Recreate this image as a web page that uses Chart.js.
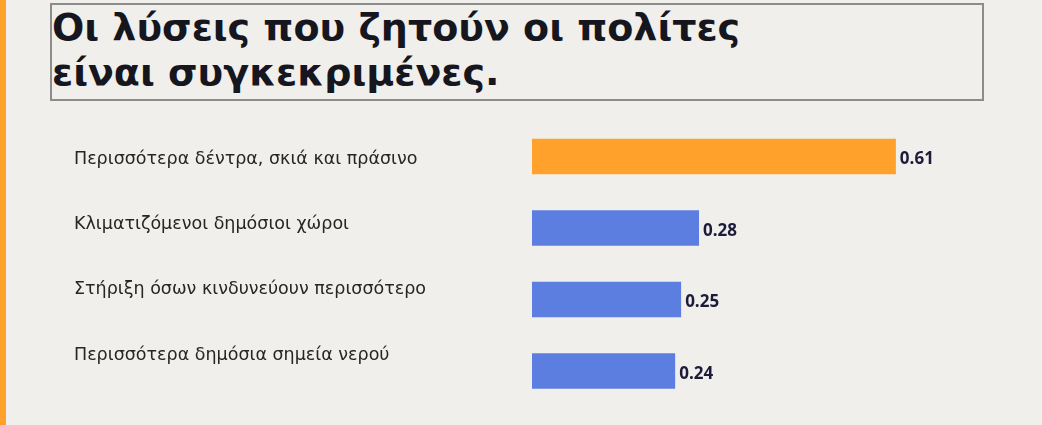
<!DOCTYPE html>
<html>
<head>
    <meta charset="utf-8">
    <title>Οι λύσεις που ζητούν οι πολίτες</title>
    <script src="https://cdn.jsdelivr.net/npm/chart.js"></script>
    <style>
        html, body { margin: 0; padding: 0; }
        body {
            width: 1042px; height: 425px; overflow: hidden;
            background: #f0efeb; position: relative;
        }
        #strip { position: absolute; left: 0; top: 0; width: 6px; height: 425px; background: #ffa12b; }
        #title {
            position: absolute; left: 50px; top: 3px; width: 930px; height: 94px;
            border: 2px solid #8c8c8c; box-sizing: content-box;
            font-family: "DejaVu Sans", sans-serif; font-weight: bold;
            font-size: 38px; line-height: 45px; color: #16161f;
            padding: 0; margin: 0;
        }
        #wrap { position: absolute; left: 0; top: 0; width: 1042px; height: 425px; }
    </style>
</head>
<body>
    <div id="strip"></div>
    <div id="title"><div>Οι λύσεις που ζητούν οι πολίτες</div><div>είναι συγκεκριμένες.</div></div>
    <div id="wrap"><canvas id="barChart" width="1042" height="425"></canvas></div>
    <script>
        const categories = [
            'Περισσότερα δέντρα, σκιά και πράσινο',
            'Κλιματιζόμενοι δημόσιοι χώροι',
            'Στήριξη όσων κινδυνεύουν περισσότερο',
            'Περισσότερα δημόσια σημεία νερού'
        ];
        const shares = [0.61, 0.28, 0.25, 0.24];

        const orange = '#ffa12b';
        const blue = '#5b7ee0';

        // value labels drawn at the end of each bar
        const valueLabels = {
            id: 'valueLabels',
            afterDatasetsDraw(chart) {
                const ctx = chart.ctx;
                const meta = chart.getDatasetMeta(0);
                ctx.save();
                ctx.font = 'bold 17px "Open Sans", sans-serif';
                ctx.fillStyle = '#1c1c3a';
                ctx.textAlign = 'left';
                ctx.textBaseline = 'middle';
                meta.data.forEach((bar, i) => {
                    ctx.fillText(shares[i].toFixed(2), bar.x + 4, bar.y + 3);
                });
                ctx.restore();
            }
        };

        const chart = new Chart(document.getElementById('barChart'), {
            type: 'bar',
            data: {
                labels: categories,
                datasets: [{
                    data: shares,
                    backgroundColor: ctx => ctx.dataIndex === 0 ? orange : blue,
                    barPercentage: 0.497,
                    categoryPercentage: 1,
                    yAxisID: 'y'
                }]
            },
            options: {
                indexAxis: 'y',
                responsive: false,
                animation: false,
                layout: { padding: { top: 120.75, bottom: 18.25, left: 74, right: 32.8 } },
                plugins: { legend: { display: false }, tooltip: { enabled: false } },
                scales: {
                    x: { min: 0, max: 0.8, display: false },
                    y: { display: false },
                    // category texts sit on their own, slightly tighter spacing
                    yl: {
                        type: 'linear',
                        position: 'left',
                        reverse: true,
                        offset: false,
                        bounds: 'data',
                        min: -0.5855,
                        max: 3.792,
                        grid: { display: false },
                        border: { display: false },
                        afterBuildTicks: scale => {
                            scale.ticks = categories.map((c, i) => ({ value: i }));
                        },
                        afterFit: scale => { scale.width = 458; },
                        ticks: {
                            crossAlign: 'far',
                            padding: 0,
                            color: '#262626',
                            font: { family: '"DejaVu Sans", sans-serif', size: 17.5 },
                            callback: v => categories[v]
                        }
                    }
                }
            },
            plugins: [valueLabels]
        });
    </script>
</body>
</html>
